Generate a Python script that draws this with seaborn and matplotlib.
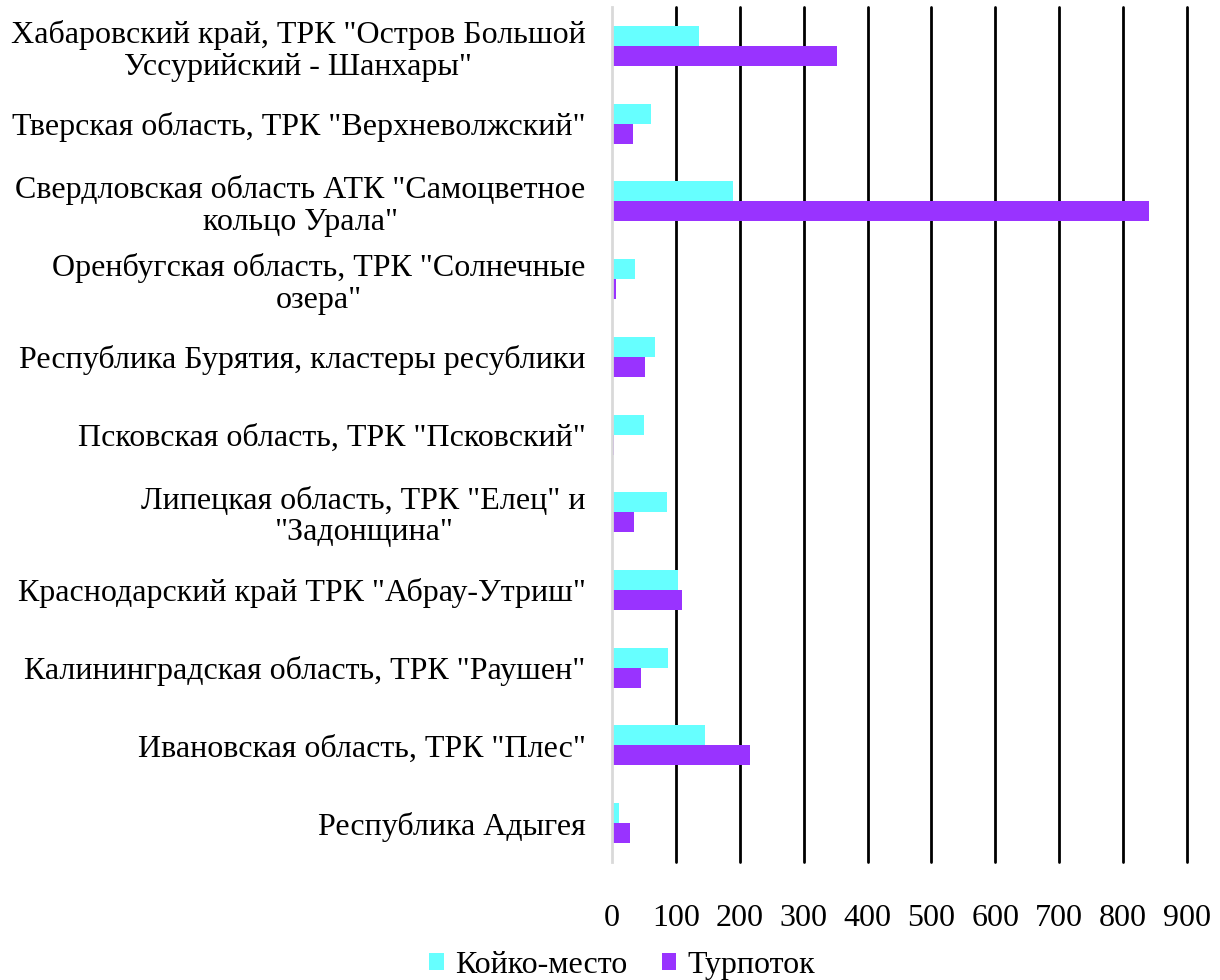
import matplotlib
matplotlib.use("Agg")
import matplotlib.pyplot as plt
import seaborn as sns
import pandas as pd

# regions, top to bottom as on the chart
regions = [
    'Хабаровский край, ТРК "Остров Большой\nУссурийский - Шанхары"',
    'Тверская область, ТРК "Верхневолжский"',
    'Свердловская область АТК "Самоцветное\nкольцо Урала"',
    'Оренбугская область, ТРК "Солнечные\nозера"',
    'Республика Бурятия, кластеры ресублики',
    'Псковская область, ТРК "Псковский"',
    'Липецкая область, ТРК "Елец" и\n"Задонщина"',
    'Краснодарский край ТРК "Абрау-Утриш"',
    'Калининградская область, ТРК "Раушен"',
    'Ивановская область, ТРК "Плес"',
    'Республика Адыгея',
]
beds = [136, 61, 190, 36, 67, 50, 86, 103, 88, 146, 11]
tourists = [353, 33, 841, 6, 52, 3, 35, 109, 45, 216, 28]
series_names = ["Койко-место", "Турпоток"]
colors = ["#66FFFF", "#9933FF"]

df = pd.DataFrame({
    "region": regions * 2,
    "value": beds + tourists,
    "series": [series_names[0]] * len(regions) + [series_names[1]] * len(regions),
})

sns.set_style("white")
plt.rcParams["font.family"] = ["Liberation Serif", "DejaVu Serif"]
plt.rcParams["text.color"] = "black"
plt.rcParams["xtick.color"] = "black"
plt.rcParams["ytick.color"] = "black"

fig = plt.figure(figsize=(12.2, 9.8), dpi=100)
ax = fig.add_axes([0.5016, 0.1204, 0.4713, 0.8724])

sns.barplot(data=df, y="region", x="value", hue="series", order=regions,
            hue_order=series_names, palette=colors, width=0.515,
            saturation=1, orient="h", ax=ax, linewidth=0, zorder=3)

ax.set_xlim(0, 900)
ax.set_ylim(10.5, -0.5)
ax.set_xticks(range(0, 901, 100))
ax.grid(axis="x", color="black", linewidth=2, zorder=0)
ax.set_axisbelow(True)
grid = ax.xaxis.get_gridlines()
grid[0].set_visible(False)
for g in grid:
    g.set_clip_on(False)
for s in ["top", "right", "bottom"]:
    ax.spines[s].set_visible(False)
ax.spines["left"].set_color("#D9D9D9")
ax.spines["left"].set_linewidth(2)
ax.spines["left"].set_zorder(4)

ax.tick_params(axis="x", length=0, pad=30, labelsize=23)
ax.tick_params(axis="y", length=0, pad=19, labelsize=23)
for lab in ax.get_yticklabels():
    lab.set_multialignment("center")
    lab.set_linespacing(1.12)
ax.set_xlabel("")
ax.set_ylabel("")

ax.get_legend().remove()
handles, labels = ax.get_legend_handles_labels()
fig.legend(handles, labels, loc="center", bbox_to_anchor=(0.51, 0.015), ncol=2,
           frameon=False, fontsize=23, handlelength=0.45, handleheight=0.45,
           handletextpad=0.35, columnspacing=1.1, borderpad=0)

fig.savefig("out.png", dpi=100)
